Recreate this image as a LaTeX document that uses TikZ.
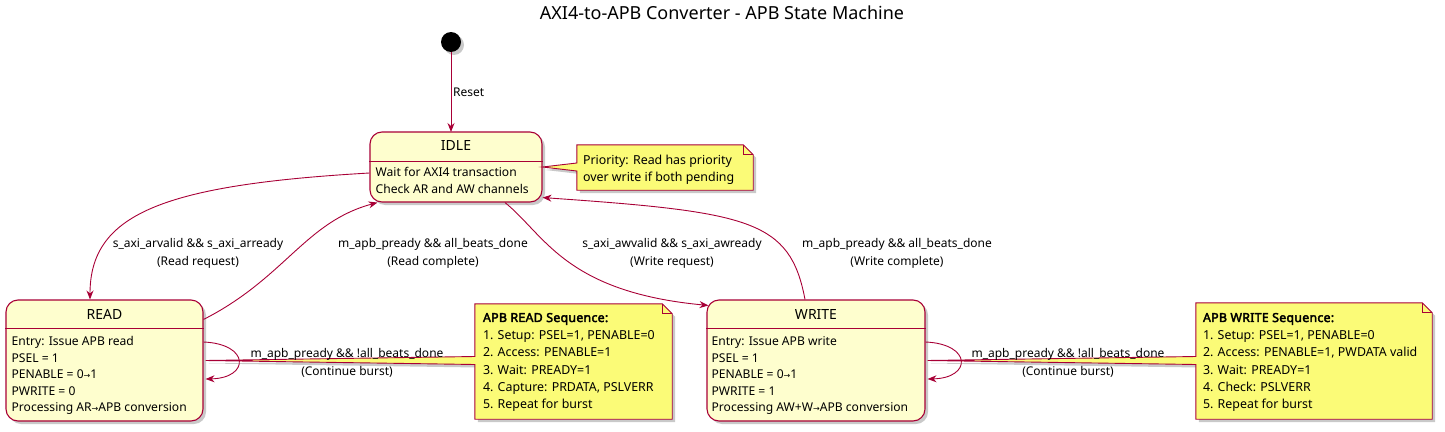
\documentclass[tikz,border=0pt]{standalone}
\usepackage{fontspec}
\setmainfont{Noto Sans}
\newfontfamily\arrowfont{DejaVu Sans}
\newfontfamily\notebold{Noto Sans}[FakeBold=3,LetterSpace=2]
\usepackage{tikz}
\usetikzlibrary{arrows.meta,arrows}
\usetikzlibrary{positioning,shadows}

\definecolor{umlred}{HTML}{A80036}
\definecolor{statefill}{HTML}{FEFECE}
\definecolor{notefill}{HTML}{FBFB77}

\newcommand{\ra}{{\arrowfont\fontsize{8}{8}\selectfont →}}

\begin{document}
\begin{tikzpicture}[x=1pt,y=-1pt,
        umlshadow/.style={drop shadow={shadow xshift=3pt,shadow yshift=-3pt,opacity=0.3,fill=black!70}},
        statebox/.style={draw=umlred,fill=statefill,line width=1.1pt,rounded corners=12pt,inner sep=0pt,umlshadow},
        stateline/.style={draw=umlred,line width=1.1pt},
        statename/.style={inner sep=0pt,font=\fontsize{14}{16}\selectfont},
        statetext/.style={inner sep=0pt,anchor=north west,align=left,font=\fontsize{12.1}{16.5}\selectfont},
        noteframe/.style={inner sep=0pt,draw=none},
        notebody/.style={draw=umlred,fill=notefill,line width=0.9pt,line join=miter,umlshadow},
        notefold/.style={draw=umlred,line width=0.9pt},
        notetext/.style={inner sep=0pt,anchor=north west,align=left,font=\fontsize{12.4}{17.4}\selectfont},
        trans/.style={->,draw=umlred,line width=0.9pt},
        translabel/.style={inner sep=0pt,anchor=north,align=center,font=\fontsize{12}{18}\selectfont},
        initdot/.style={circle,fill=black,minimum size=20pt,inner sep=0pt,umlshadow},
        charttitle/.style={inner sep=0pt,font=\fontsize{18}{20}\selectfont}]

    \useasboundingbox (0,0) rectangle (1445,431);

    \node[charttitle] (title) at (722,13) {AXI4-to-APB Converter - APB State Machine};

    \node[initdot] (init) at (451,42) {};

    % transitions
    \begin{scope}[>={Stealth[length=9pt,width=7pt,inset=3pt]}]
        \draw[trans] (init) -- (451,132);
    \end{scope}

    % states
    \begin{scope}[every node/.style={statebox}]
        \node[minimum width=172pt,minimum height=70pt] (idle) at (456,167) {};
        \node[minimum width=197pt,minimum height=121pt] (read) at (104.5,360.5) {};
        \node[minimum width=218pt,minimum height=121pt] (write) at (816,360.5) {};
    \end{scope}

    \draw[stateline] ([yshift=-30pt]idle.north west) -- ([yshift=-30pt]idle.north east);
    \draw[stateline] ([yshift=-29pt]read.north west) -- ([yshift=-29pt]read.north east);
    \draw[stateline] ([yshift=-29pt]write.north west) -- ([yshift=-29pt]write.north east);

    \node[statename] (idlename) at ([yshift=-14pt]idle.north) {IDLE};
    \node[statename] (readname) at ([yshift=-15pt]read.north) {READ};
    \node[statename] (writename) at ([yshift=-15pt]write.north) {WRITE};

    \node[statetext] (idletext) at ([xshift=6pt,yshift=-36pt]idle.north west)
        {Wait for AXI4 transaction\\Check AR and AW channels};
    \node[statetext] (readtext) at ([xshift=6pt,yshift=-37pt]read.north west)
        {Entry: Issue APB read\\PSEL = 1\\PENABLE = 0\ra1\\PWRITE = 0\\Processing AR\ra APB conversion};
    \node[statetext] (writetext) at ([xshift=5pt,yshift=-37pt]write.north west)
        {Entry: Issue APB write\\PSEL = 1\\PENABLE = 0\ra1\\PWRITE = 1\\Processing AW+W\ra APB conversion};

    \begin{scope}[>={Stealth[length=9pt,width=7pt,inset=3pt]}]
        \draw[trans] ([yshift=-6pt]idle.west) .. controls (160,185) and (90,215) .. ([xshift=-14.5pt]read.north);
        \draw[trans] ([yshift=-20pt]read.north east) .. controls (285,278) and (305,222) .. ([xshift=8pt]idle.south west);
        \draw[trans] ([xshift=49pt]idle.south) .. controls (545,235) and (565,292) .. ([xshift=2pt,yshift=-6pt]write.north west);
        \draw[trans] ([xshift=-11pt]write.north) .. controls (790,220) and (750,212) .. ([yshift=5pt]idle.south east);
        \draw[trans] ([yshift=18.5pt]read.east) .. controls (250,344) and (250,378) .. ([xshift=2pt,yshift=-18.5pt]read.east);
        \draw[trans] ([yshift=18.5pt]write.east) .. controls (972,344) and (972,378) .. ([xshift=2pt,yshift=-18.5pt]write.east);
    \end{scope}

    % notes
    \node[noteframe,minimum width=176pt,minimum height=45pt] (prionote) at (665,167.5) {};
    \node[noteframe,minimum width=197pt,minimum height=115pt] (readnote) at (573.5,361.5) {};
    \node[noteframe,minimum width=236pt,minimum height=116pt] (writenote) at (1314,361) {};

    \draw[notebody] (prionote.north west) -- ([xshift=-10pt]prionote.north east) -- ([yshift=-10pt]prionote.north east)
        -- (prionote.south east) -- (prionote.south west) -- ([yshift=-4pt]prionote.west |- idle.east)
        -- (idle.east) -- ([yshift=4pt]prionote.west |- idle.east) -- cycle;
    \draw[notefold] ([xshift=-10pt]prionote.north east) |- ([yshift=-10pt]prionote.north east);

    \draw[notebody] (readnote.north west) -- ([xshift=-10pt]readnote.north east) -- ([yshift=-10pt]readnote.north east)
        -- (readnote.south east) -- (readnote.south west) -- ([yshift=-4pt]readnote.west |- read.east)
        -- ([xshift=2pt]read.east) -- ([yshift=4pt]readnote.west |- read.east) -- cycle;
    \draw[notefold] ([xshift=-10pt]readnote.north east) |- ([yshift=-10pt]readnote.north east);

    \draw[notebody] (writenote.north west) -- ([xshift=-10pt]writenote.north east) -- ([yshift=-10pt]writenote.north east)
        -- (writenote.south east) -- (writenote.south west) -- ([yshift=-4pt]writenote.west |- write.east)
        -- ([xshift=2pt]write.east) -- ([yshift=4pt]writenote.west |- write.east) -- cycle;
    \draw[notefold] ([xshift=-10pt]writenote.north east) |- ([yshift=-10pt]writenote.north east);

    \node[notetext] (prionotetext) at ([xshift=6pt,yshift=-10pt]prionote.north west)
        {Priority: Read has priority\\over write if both pending};
    \node[notetext] (readnotetext) at ([xshift=8pt,yshift=-9pt]readnote.north west)
        {{\notebold APB READ Sequence:}\\1. Setup: PSEL=1, PENABLE=0\\2. Access: PENABLE=1\\3. Wait: PREADY=1\\4. Capture: PRDATA, PSLVERR\\5. Repeat for burst};
    \node[notetext] (writenotetext) at ([xshift=7pt,yshift=-10pt]writenote.north west)
        {{\notebold APB WRITE Sequence:}\\1. Setup: PSEL=1, PENABLE=0\\2. Access: PENABLE=1, PWDATA valid\\3. Wait: PREADY=1\\4. Check: PSLVERR\\5. Repeat for burst};

    % transition labels
    \begin{scope}[every node/.style={translabel}]
        \node[anchor=west] (resetlbl) at (453,92) {Reset};
        \node (readreqlbl) at (198,238) {s\_axi\_arvalid \&\& s\_axi\_arready\\(Read request)};
        \node (readdonelbl) at (433,238) {m\_apb\_pready \&\& all\_beats\_done\\(Read complete)};
        \node (writereqlbl) at (672,238) {s\_axi\_awvalid \&\& s\_axi\_awready\\(Write request)};
        \node (writedonelbl) at (897,238) {m\_apb\_pready \&\& all\_beats\_done\\(Write complete)};
        \node (readlooplbl) at (347,348) {m\_apb\_pready \&\& !all\_beats\_done\\(Continue burst)};
        \node (writelooplbl) at (1068,348) {m\_apb\_pready \&\& !all\_beats\_done\\(Continue burst)};
    \end{scope}
\end{tikzpicture}
\end{document}
